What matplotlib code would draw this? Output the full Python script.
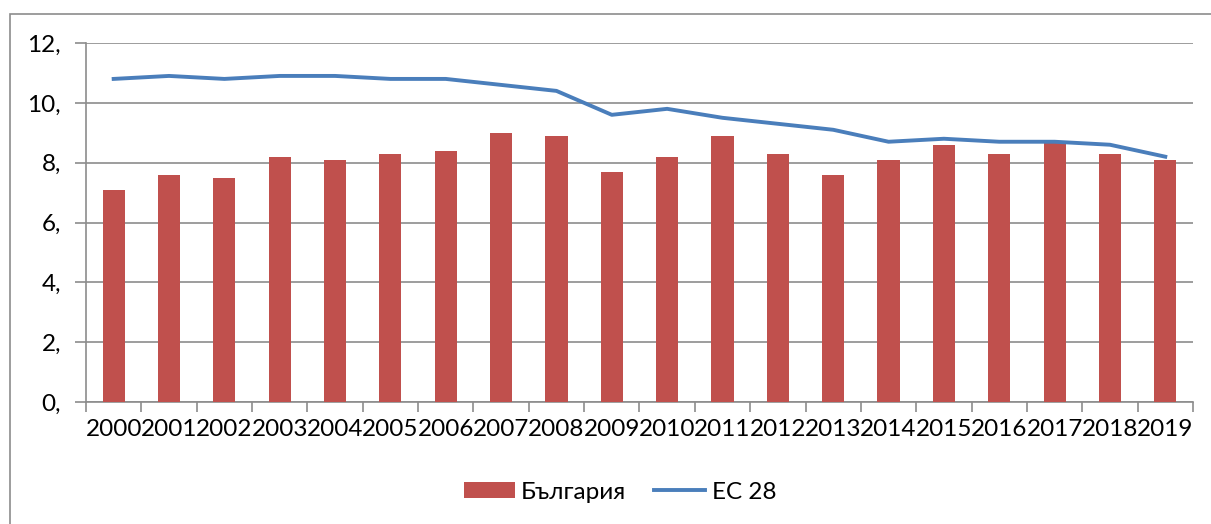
import numpy as np
import matplotlib
matplotlib.use("Agg")
from matplotlib import pyplot as plt
from matplotlib.patches import Rectangle
from matplotlib.ticker import FuncFormatter

plt.rcParams['font.family'] = ['Lato', 'DejaVu Sans']

years = [str(y) for y in range(2000, 2020)]
bulgaria = [7.1, 7.6, 7.5, 8.2, 8.1, 8.3, 8.4, 9.0, 8.9, 7.7,
            8.2, 8.9, 8.3, 7.6, 8.1, 8.6, 8.3, 8.7, 8.3, 8.1]
eu28 = [10.8, 10.9, 10.8, 10.9, 10.9, 10.8, 10.8, 10.6, 10.4, 9.6,
        9.8, 9.5, 9.3, 9.1, 8.7, 8.8, 8.7, 8.7, 8.6, 8.2]
yticks = [0, 2, 4, 6, 8, 10, 12]

fig = plt.figure(figsize=(12.11, 5.24), dpi=100)
ax = fig.add_axes([0.0710, 0.2328, 0.9141, 0.6851])

x = np.arange(len(years))
bars = ax.bar(x, bulgaria, width=0.4, color='#C0504D', label='България', zorder=3)
line, = ax.plot(x, eu28, color='#4A7EBB', lw=2.8, label='ЕС 28', zorder=4)

ax.set_xlim(-0.5, len(years) - 0.5)
ax.set_ylim(0, 12)
ax.set_yticks(yticks)
ax.yaxis.set_major_formatter(FuncFormatter(lambda v, p: f"{int(v)},"))
ax.grid(axis='y', color='#8c8c8c', lw=1.2, zorder=0)

# category labels centred, ticks on category boundaries
ax.set_xticks(x)
ax.set_xticklabels(years)
ax.set_xticks(np.arange(-0.5, len(years)), minor=True)
ax.tick_params(axis='x', which='major', length=0, labelsize=17.5, pad=12)
ax.tick_params(axis='x', which='minor', length=7, width=1.2, color='#8c8c8c')
ax.tick_params(axis='y', length=8, width=1.2, color='#8c8c8c', labelsize=17.5, pad=10)

for s in ['top', 'right']:
    ax.spines[s].set_visible(False)
for s in ['left', 'bottom']:
    ax.spines[s].set_color('#8c8c8c')
    ax.spines[s].set_linewidth(1.2)

fig.legend([bars, line], ['България', 'ЕС 28'], loc='center',
           bbox_to_anchor=(0.512, 0.061), ncol=2, frameon=False,
           fontsize=17.5, handlelength=2.1, handleheight=0.58, columnspacing=1.15,
           handletextpad=0.25)

# outer chart border
fig.patches.append(Rectangle((10 / 1211, -0.1), 1.2, 1 - 14 / 524 + 0.1,
                             transform=fig.transFigure, fill=False,
                             edgecolor='#8c8c8c', lw=1.2))

fig.savefig("out.png", dpi=100)
